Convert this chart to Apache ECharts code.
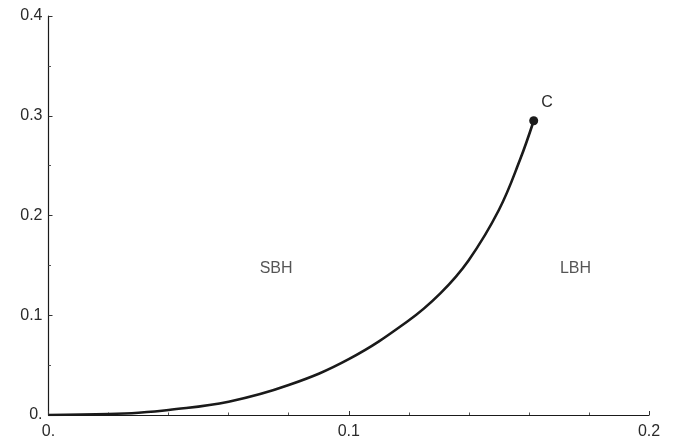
<!DOCTYPE html>
<html>
<head>
<meta charset="utf-8">
<script src="https://cdn.jsdelivr.net/npm/echarts@6/dist/echarts.min.js"></script>
<style>html,body{margin:0;padding:0;background:#fff}#c{width:694px;height:444px}</style>
</head>
<body>
<div id="c"></div>
<script>
// Curve data (x, y)
const curveX = [0, 0.02, 0.03, 0.04, 0.06, 0.08, 0.1, 0.1194, 0.1305, 0.1399, 0.15, 0.157, 0.1616];
const curveY = [0, 0.001, 0.0023, 0.005, 0.0133, 0.030, 0.056, 0.0935, 0.122, 0.155, 0.2055, 0.2556, 0.295];
// Critical point
const pointC = [0.1616, 0.295];
const pointCLabel = 'C';
// Region labels
const regionNames = ['SBH', 'LBH'];
const regionX = [0.0758, 0.1755];
const regionY = [0.147, 0.147];
// Axis ranges
const xTicks = [0, 0.1, 0.2];
const yTicks = [0, 0.1, 0.2, 0.3, 0.4];

const fmt = v => (Math.abs(v) < 1e-9 ? '0.' : v.toFixed(1));
const curveData = curveX.map((x, i) => [x, curveY[i]]);
const regionData = regionNames.map((n, i) => ({ value: [regionX[i], regionY[i]], name: n }));
const FONT = 'Liberation Sans, Arial, sans-serif';

const chart = echarts.init(document.getElementById('c'), null, { renderer: 'canvas' });
const axisCommon = {
  type: 'value',
  axisLine: { show: true, onZero: false, lineStyle: { color: '#1a1a1a', width: 1.2 } },
  axisTick: { show: true, inside: true, length: 4, lineStyle: { color: '#333', width: 1 } },
  minorTick: { show: true, length: 2.5, lineStyle: { color: '#555', width: 1 } },
  splitLine: { show: false },
  minorSplitLine: { show: false },
  axisLabel: { color: '#2a2a2a', fontFamily: FONT, fontSize: 16, formatter: fmt }
};
chart.setOption({
  animation: false,
  backgroundColor: '#fff',
  grid: { left: 48.5, right: 45, top: 16, bottom: 29, containLabel: false },
  xAxis: Object.assign({}, axisCommon, {
    min: xTicks[0], max: xTicks[xTicks.length - 1], interval: 0.1,
    minorTick: Object.assign({}, axisCommon.minorTick, { splitNumber: 5 }),
    axisLabel: Object.assign({}, axisCommon.axisLabel, { margin: 9 })
  }),
  yAxis: Object.assign({}, axisCommon, {
    min: yTicks[0], max: yTicks[yTicks.length - 1], interval: 0.1,
    minorTick: Object.assign({}, axisCommon.minorTick, { splitNumber: 2 }),
    axisLabel: Object.assign({}, axisCommon.axisLabel, { margin: 6 })
  }),
  series: [
    {
      type: 'line', data: curveData, smooth: 0.4, showSymbol: false,
      lineStyle: { color: '#1a1a1a', width: 2.6 }, z: 3
    },
    {
      type: 'scatter', data: [pointC], symbolSize: 9,
      itemStyle: { color: '#1a1a1a', opacity: 1 },
      label: { show: true, formatter: pointCLabel, position: 'right', offset: [-2, -18],
        color: '#2a2a2a', fontSize: 16, fontFamily: FONT },
      z: 4
    },
    {
      type: 'scatter', data: regionData, symbolSize: 0,
      label: { show: true, formatter: p => p.name, position: 'inside',
        color: '#2a2a2a', fontSize: 16, fontFamily: FONT }
    }
  ]
});
</script>
</body>
</html>
